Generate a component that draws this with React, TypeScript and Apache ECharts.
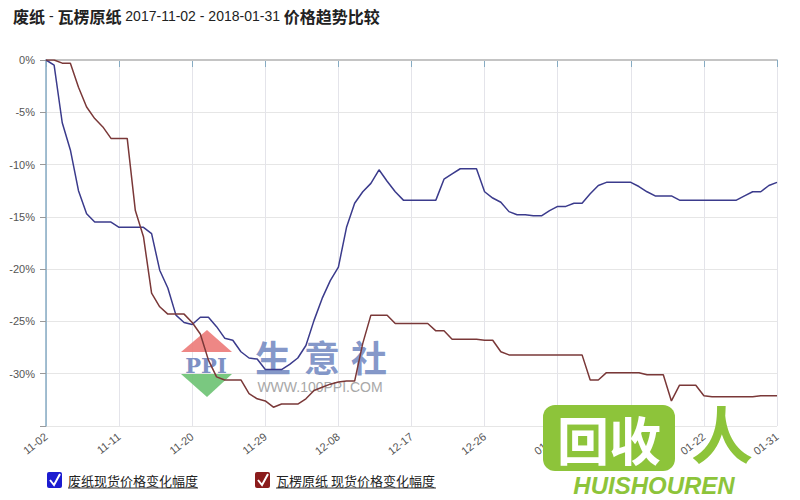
import React, { useEffect, useRef } from "react";
import * as echarts from "echarts";

// 2017-11-02 .. 2018-01-31, daily
const monthSpans: [string, number, number][] = [
  ["11", 2, 30],
  ["12", 1, 31],
  ["01", 1, 31],
];
const dates: string[] = [];
monthSpans.forEach(([m, a, b]) => {
  for (let d = a; d <= b; d++) dates.push(m + "-" + (d < 10 ? "0" + d : "" + d));
});

const seriesNames = ["废纸现货价格变化幅度", "瓦楞原纸 现货价格变化幅度"];

const wastePaper = [
  0, -0.5, -6.0, -8.6, -12.5, -14.7, -15.5, -15.5, -15.5, -16.0,
  -16.0, -16.0, -16.0, -16.6, -20.1, -21.8, -24.4, -25.1, -25.3, -24.6,
  -24.6, -25.5, -26.6, -26.8, -27.9, -28.5, -28.6, -29.6, -29.6, -29.6,
  -29.1, -28.5, -27.3, -24.9, -22.8, -21.1, -19.8, -16.0, -13.7, -12.6,
  -11.8, -10.5, -11.6, -12.6, -13.4, -13.4, -13.4, -13.4, -13.4, -11.4,
  -10.9, -10.4, -10.4, -10.4, -12.6, -13.2, -13.6, -14.5, -14.8, -14.8,
  -14.9, -14.9, -14.4, -14.0, -14.0, -13.7, -13.7, -12.8, -12.0, -11.7,
  -11.7, -11.7, -11.7, -12.1, -12.6, -13.0, -13.0, -13.0, -13.4, -13.4,
  -13.4, -13.4, -13.4, -13.4, -13.4, -13.4, -13.0, -12.6, -12.6, -12.0, -11.7,
];

const corrugated = [
  0, 0, -0.3, -0.3, -2.6, -4.5, -5.6, -6.4, -7.5, -7.5,
  -7.5, -14.4, -16.9, -22.3, -23.6, -24.3, -24.3, -24.3, -25.1, -26.2,
  -28.7, -30.3, -30.6, -30.6, -30.6, -31.9, -32.4, -32.6, -33.2, -32.9,
  -32.9, -32.9, -32.4, -31.6, -31.3, -31.0, -30.8, -30.7, -30.7, -27.1,
  -24.4, -24.4, -24.4, -25.2, -25.2, -25.2, -25.2, -25.2, -25.9, -25.9,
  -26.7, -26.7, -26.7, -26.7, -26.8, -26.8, -27.9, -28.2, -28.2, -28.2,
  -28.2, -28.2, -28.2, -28.2, -28.2, -28.2, -28.2, -30.6, -30.6, -29.9,
  -29.9, -29.9, -29.9, -29.9, -30.1, -30.1, -30.1, -32.6, -31.1, -31.1,
  -31.1, -32.1, -32.2, -32.2, -32.2, -32.2, -32.2, -32.2, -32.1, -32.1, -32.1,
];

const yMin = -35;
const yMax = 0;
const yStep = 5;

const BLUE = "#3b3b8c";
const RED = "#7a3838";
const FONT = "Liberation Sans, Arial, sans-serif";
const CJK = "Noto Sans CJK SC, sans-serif";

export default function App() {
  const ref = useRef<HTMLDivElement>(null);
  useEffect(() => {
    if (!ref.current) return;
    const chart = echarts.init(ref.current, null, { renderer: "svg" });
    const option: any = {
      animation: false,
      backgroundColor: "#ffffff",
      title: {
        left: 8,
        top: 3,
        text: "{b|废纸} - {b|瓦楞原纸} 2017-11-02 - 2018-01-31 {b|价格趋势比较}",
        textStyle: {
          fontSize: 14,
          fontWeight: "normal",
          color: "#222",
          fontFamily: FONT,
          rich: {
            b: { fontSize: 16, fontWeight: "bold", color: "#222", fontFamily: CJK },
          },
        },
      },
      grid: { left: 46, right: 23, top: 60, bottom: 74 },
      xAxis: {
        type: "category",
        data: dates,
        boundaryGap: false,
        axisLine: { lineStyle: { color: "#86abc3", width: 1.5 } },
        axisTick: { show: true, interval: 8, length: 7, lineStyle: { color: "#86abc3" } },
        axisLabel: {
          interval: 8,
          rotate: 38,
          margin: 9,
          fontSize: 11,
          color: "#555",
          fontFamily: FONT,
        },
        splitLine: { show: true, interval: 8, lineStyle: { color: "#e4e4ea", width: 1 } },
      },
      yAxis: {
        type: "value",
        min: yMin,
        max: yMax,
        interval: yStep,
        axisLine: { show: true, lineStyle: { color: "#86abc3", width: 1.5 } },
        axisTick: { show: true, length: 6, lineStyle: { color: "#999" } },
        axisLabel: {
          margin: 11,
          fontSize: 11,
          color: "#555",
          fontFamily: FONT,
          formatter: (v: number) => (v === yMin ? "" : v + "%"),
        },
        splitLine: { show: true, lineStyle: { color: "#e6e6e6", width: 1 } },
      },
      series: [
        {
          name: seriesNames[0],
          type: "line",
          data: wastePaper,
          showSymbol: false,
          z: 5,
          lineStyle: { color: BLUE, width: 1.5 },
          itemStyle: { color: BLUE },
          markLine: {
            silent: true,
            symbol: "none",
            label: { show: false },
            lineStyle: { color: "#c4c4c4", width: 2, type: "solid" },
            data: [{ yAxis: 0 }],
          },
        },
        {
          name: seriesNames[1],
          type: "line",
          data: corrugated,
          showSymbol: false,
          z: 5,
          lineStyle: { color: RED, width: 1.5 },
          itemStyle: { color: RED },
        },
      ],
      graphic: [
        // watermark: PPI logo (beneath the lines)
        {
          type: "polygon",
          z: 1,
          shape: { points: [[181, 352], [207, 330], [232, 352]] },
          style: { fill: "#ec7a78", opacity: 0.9 },
        },
        {
          type: "text",
          z: 1,
          x: 206,
          y: 365,
          style: {
            text: "PPI",
            font: "bold 21px DejaVu Serif, serif",
            fill: "#7d90c4",
            align: "center",
            verticalAlign: "middle",
          },
        },
        {
          type: "polygon",
          z: 1,
          shape: { points: [[181, 374], [232, 374], [207, 397]] },
          style: { fill: "#6cc272", opacity: 0.9 },
        },
        {
          type: "text",
          z: 1,
          x: 273,
          y: 356,
          style: { text: "生", font: "bold 36px Noto Sans CJK SC", fill: "#6f86bf", opacity: 0.85, align: "center", verticalAlign: "middle" },
        },
        {
          type: "text",
          z: 1,
          x: 322,
          y: 356,
          style: { text: "意", font: "bold 36px Noto Sans CJK SC", fill: "#6f86bf", opacity: 0.85, align: "center", verticalAlign: "middle" },
        },
        {
          type: "text",
          z: 1,
          x: 369,
          y: 356,
          style: { text: "社", font: "bold 36px Noto Sans CJK SC", fill: "#6f86bf", opacity: 0.85, align: "center", verticalAlign: "middle" },
        },
        {
          type: "text",
          z: 1,
          x: 320,
          y: 387,
          style: { text: "WWW.100PPI.COM", font: "14px Liberation Sans", fill: "#a8a8a8", align: "center", verticalAlign: "middle" },
        },
        // watermark: 回收人 logo (on top)
        {
          type: "rect",
          z: 20,
          shape: { x: 543, y: 405, width: 132, height: 66, r: 12 },
          style: { fill: "#8dc43a" },
        },
        {
          type: "text",
          z: 21,
          x: 609,
          y: 438,
          style: { text: "回收", font: "bold 52px Noto Sans CJK SC", fill: "#ffffff", align: "center", verticalAlign: "middle" },
        },
        {
          type: "text",
          z: 21,
          x: 722,
          y: 432,
          style: { text: "人", font: "bold 62px Noto Sans CJK SC", fill: "#8dc43a", align: "center", verticalAlign: "middle" },
        },
        {
          type: "text",
          z: 21,
          x: 654,
          y: 485,
          style: { text: "HUISHOUREN", font: "italic bold 24px Liberation Sans", fill: "#8dc43a", align: "center", verticalAlign: "middle" },
        },
        // legend
        {
          type: "rect",
          z: 10,
          shape: { x: 47, y: 472, width: 15, height: 16, r: 2 },
          style: { fill: "#1c1cd0" },
        },
        {
          type: "polyline",
          z: 11,
          shape: { points: [[50, 480], [54, 485], [60, 474]] },
          style: { stroke: "#ffffff", lineWidth: 2, fill: null },
        },
        {
          type: "text",
          z: 10,
          x: 68,
          y: 480,
          style: { text: seriesNames[0], font: "13px Noto Sans CJK SC", fill: "#222", verticalAlign: "middle" },
        },
        {
          type: "line",
          z: 10,
          shape: { x1: 68, y1: 488, x2: 198, y2: 488 },
          style: { stroke: "#333", lineWidth: 1 },
        },
        {
          type: "rect",
          z: 10,
          shape: { x: 255, y: 472, width: 15, height: 16, r: 2 },
          style: { fill: "#8b1c1c" },
        },
        {
          type: "polyline",
          z: 11,
          shape: { points: [[258, 480], [262, 485], [268, 474]] },
          style: { stroke: "#ffffff", lineWidth: 2, fill: null },
        },
        {
          type: "text",
          z: 10,
          x: 276,
          y: 480,
          style: { text: seriesNames[1], font: "13px Noto Sans CJK SC", fill: "#222", verticalAlign: "middle" },
        },
        {
          type: "line",
          z: 10,
          shape: { x1: 276, y1: 488, x2: 436, y2: 488 },
          style: { stroke: "#333", lineWidth: 1 },
        },
      ],
    };
    chart.setOption(option);
    return () => chart.dispose();
  }, []);
  return (
    <div
      ref={ref}
      style={{ position: "fixed", left: 0, top: 0, width: 800, height: 500, background: "#fff" }}
    />
  );
}
